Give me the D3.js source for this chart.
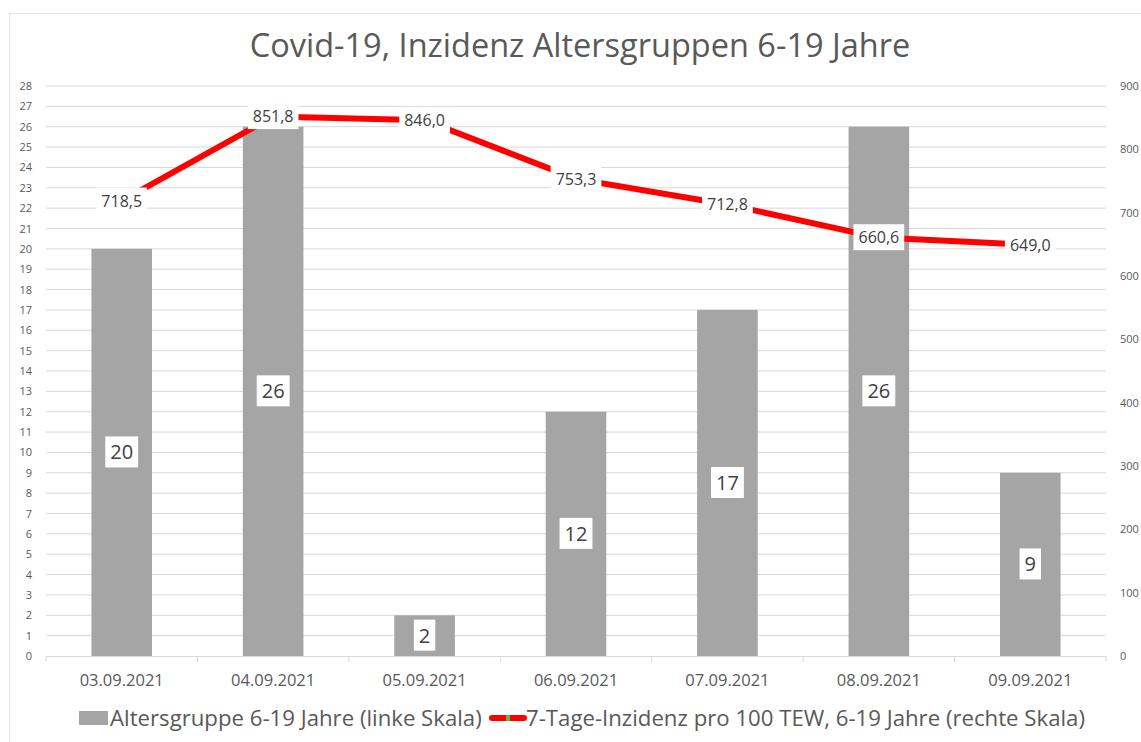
<!DOCTYPE html>
<html>
<head>
<meta charset="utf-8">
<script src="https://cdn.jsdelivr.net/npm/d3@7"></script>
<style>
  body { margin: 0; background: #fff; }
  svg { display: block; font-family: "Open Sans", "Noto Sans", sans-serif; }
</style>
</head>
<body>
<div id="chart"></div>
<script>
// Data
const dates = ["03.09.2021", "04.09.2021", "05.09.2021", "06.09.2021", "07.09.2021", "08.09.2021", "09.09.2021"];
const cases = [20, 26, 2, 12, 17, 26, 9];
const incidence = [718.5, 851.8, 846.0, 753.3, 712.8, 660.6, 649.0];
const leftTicks = d3.range(0, 29);
const rightTicks = [0, 100, 200, 300, 400, 500, 600, 700, 800, 900];

const W = 1141, H = 742;
const margin = { top: 86, right: 35, bottom: 86, left: 46 };
const width = W - margin.left - margin.right,
      height = H - margin.top - margin.bottom;

const svg = d3.select("#chart").append("svg")
  .attr("width", W).attr("height", H);

// faint chart border
svg.append("rect")
  .attr("x", 9.5).attr("y", 13.5)
  .attr("width", W + 20).attr("height", H + 20)
  .attr("fill", "none").attr("stroke", "#e4e4e4");

svg.append("text")
  .attr("x", 580).attr("y", 57)
  .attr("text-anchor", "middle")
  .attr("font-size", 32.5)
  .attr("fill", "#595959")
  .text("Covid-19, Inzidenz Altersgruppen 6-19 Jahre");

const g = svg.append("g").attr("transform", `translate(${margin.left},${margin.top})`);

const x = d3.scaleBand().domain(dates).range([0, width]).paddingInner(0.6).paddingOuter(0.3);
const xCenter = d => x(d) + x.bandwidth() / 2;
const yL = d3.scaleLinear().domain([0, 28]).range([height, 0]);
const yR = d3.scaleLinear().domain([0, 900]).range([height, 0]);

// gridlines
g.append("g").selectAll("line").data(leftTicks.slice(1)).join("line")
  .attr("x1", 0).attr("x2", width)
  .attr("y1", d => yL(d)).attr("y2", d => yL(d))
  .attr("stroke", "#d9d9d9").attr("stroke-width", 1);

// left axis
const axL = g.append("g").call(d3.axisLeft(yL).tickValues(leftTicks).tickSize(0).tickPadding(14));
axL.select(".domain").remove();
axL.selectAll("text").attr("font-size", 11).attr("fill", "#595959").attr("font-family", "Open Sans, sans-serif");

// right axis
const axR = g.append("g").attr("transform", `translate(${width},0)`)
  .call(d3.axisRight(yR).tickValues(rightTicks).tickSize(0).tickPadding(14));
axR.select(".domain").remove();
axR.selectAll("text").attr("font-size", 11).attr("fill", "#595959").attr("font-family", "Open Sans, sans-serif");

// x axis
const axX = g.append("g").attr("transform", `translate(0,${height})`)
  .call(d3.axisBottom(x).tickSize(0).tickPadding(18));
axX.select(".domain").attr("stroke", "#d9d9d9");
axX.selectAll("text").attr("font-size", 16.5).attr("fill", "#595959").attr("font-family", "Open Sans, sans-serif");
g.append("g").selectAll("line").data(d3.range(dates.length + 1)).join("line")
  .attr("x1", i => i * width / dates.length).attr("x2", i => i * width / dates.length)
  .attr("y1", height).attr("y2", height + 6)
  .attr("stroke", "#d9d9d9");

// bars
g.selectAll(".bar").data(dates).join("rect")
  .attr("class", "bar")
  .attr("x", d => x(d))
  .attr("width", x.bandwidth())
  .attr("y", (d, i) => yL(cases[i]))
  .attr("height", (d, i) => height - yL(cases[i]))
  .attr("fill", "#a5a5a5");

// line
const line = d3.line().x((d, i) => xCenter(dates[i])).y(d => yR(d));
g.append("path").datum(incidence)
  .attr("d", line)
  .attr("fill", "none")
  .attr("stroke", "#ff0000")
  .attr("stroke-width", 6);

// labels with white boxes
function label(cx, cy, txt, size) {
  const t = g.append("text")
    .attr("x", cx).attr("y", cy)
    .attr("text-anchor", "middle").attr("dy", "0.35em")
    .attr("font-size", size).attr("fill", "#404040")
    .text(txt);
  const b = t.node().getBBox();
  g.insert("rect", () => t.node())
    .attr("x", b.x - 5).attr("y", b.y - 2)
    .attr("width", b.width + 10).attr("height", b.height + 4)
    .attr("fill", "#fff");
}

dates.forEach((d, i) => {
  label(xCenter(d), (yL(cases[i]) + height) / 2, String(cases[i]), 20);
});
dates.forEach((d, i) => {
  label(xCenter(d), yR(incidence[i]), incidence[i].toFixed(1).replace(".", ","), 16);
});

// legend
const lg = svg.append("g").attr("transform", "translate(0,718)");
lg.append("rect").attr("x", 79).attr("y", -7).attr("width", 29).attr("height", 14).attr("fill", "#a5a5a5");
lg.append("text").attr("x", 110).attr("y", 0).attr("dy", "0.35em")
  .attr("font-size", 22.2).attr("fill", "#595959")
  .text("Altersgruppe 6-19 Jahre (linke Skala)");
lg.append("line").attr("x1", 492).attr("x2", 524).attr("y1", 0).attr("y2", 0)
  .attr("stroke", "#ff0000").attr("stroke-width", 6).attr("stroke-linecap", "round");
lg.append("rect").attr("x", 506).attr("y", -3).attr("width", 4).attr("height", 6).attr("fill", "#70ad47");
lg.append("text").attr("x", 526).attr("y", 0).attr("dy", "0.35em")
  .attr("font-size", 22.2).attr("fill", "#595959")
  .text("7-Tage-Inzidenz pro 100 TEW, 6-19 Jahre (rechte Skala)");
</script>
</body>
</html>
